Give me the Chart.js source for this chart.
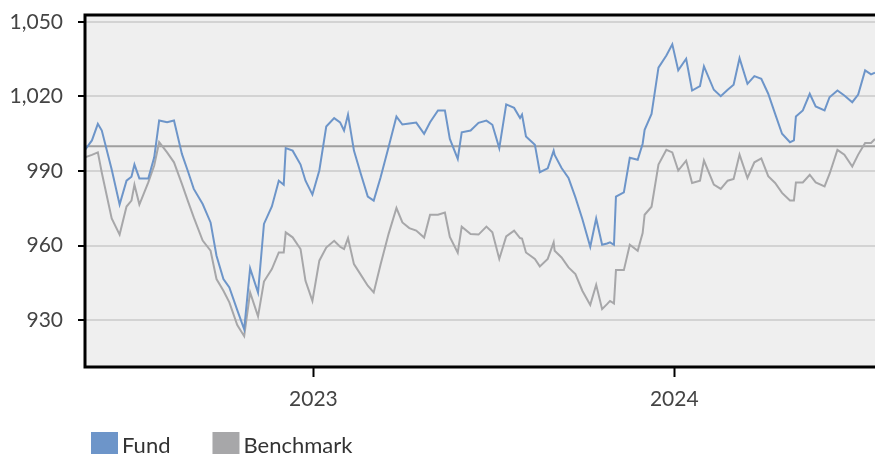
<!DOCTYPE html>
<html>
<head>
<meta charset="utf-8">
<script src="https://cdn.jsdelivr.net/npm/chart.js@4.4.1/dist/chart.umd.min.js"></script>
<style>
  html, body { margin: 0; padding: 0; background: #fff; }
  #wrap { width: 875px; height: 454px; overflow: hidden; }
</style>
</head>
<body>
<div id="wrap"><canvas id="chart" width="875" height="454"></canvas></div>
<script>
const dates = [
  '2022-05-15','2022-05-22','2022-05-28','2022-06-01','2022-06-11','2022-06-19','2022-06-26','2022-07-01',
  '2022-07-04','2022-07-09','2022-07-18','2022-07-24','2022-07-29','2022-08-06','2022-08-13','2022-08-21',
  '2022-08-27','2022-09-02','2022-09-11','2022-09-19','2022-09-25','2022-10-02','2022-10-08','2022-10-16',
  '2022-10-23','2022-10-29','2022-11-06','2022-11-12','2022-11-20','2022-11-27','2022-12-02','2022-12-04',
  '2022-12-11','2022-12-19','2022-12-24','2022-12-31','2023-01-07','2023-01-14','2023-01-22','2023-01-28',
  '2023-02-01','2023-02-05','2023-02-11','2023-02-18','2023-02-25','2023-03-03','2023-03-10','2023-03-18',
  '2023-03-26','2023-04-01','2023-04-08','2023-04-15','2023-04-23','2023-04-29','2023-05-07','2023-05-14',
  '2023-05-19','2023-05-27','2023-05-31','2023-06-09','2023-06-17','2023-06-25','2023-07-01','2023-07-08',
  '2023-07-15','2023-07-23','2023-07-29','2023-07-31','2023-08-04','2023-08-13','2023-08-18','2023-08-26',
  '2023-09-01','2023-09-02','2023-09-09','2023-09-16','2023-09-23','2023-09-30','2023-10-08','2023-10-14',
  '2023-10-20','2023-10-25','2023-10-28','2023-11-01','2023-11-03','2023-11-11','2023-11-17','2023-11-25',
  '2023-11-30','2023-12-02','2023-12-09','2023-12-16','2023-12-24','2023-12-30','2024-01-05','2024-01-13',
  '2024-01-19','2024-01-27','2024-01-31','2024-02-10','2024-02-17','2024-02-24','2024-03-01','2024-03-07',
  '2024-03-15','2024-03-22','2024-03-29','2024-04-05','2024-04-12','2024-04-19','2024-04-27','2024-05-01',
  '2024-05-03','2024-05-10','2024-05-17','2024-05-23','2024-06-01','2024-06-06','2024-06-14','2024-06-21',
  '2024-06-29','2024-07-05','2024-07-12','2024-07-18','2024-07-22'
];

const fund = [
  998.5, 1002.3, 1009, 1006.3, 990.6, 976.5, 986.1, 987.7,
  992.6, 987, 987, 995.5, 1010.3, 1009.6, 1010.3, 996.9,
  990, 982.8, 976.7, 969.3, 955.9, 946.5, 943.1, 934,
  926.3, 950.8, 941.1, 968.7, 975.7, 986.1, 984.5, 999.2,
  998.2, 992.6, 986.1, 980.5, 990.2, 1007.9, 1011.3, 1009.6,
  1006.3, 1012.7, 998.2, 988.8, 979.7, 978.1, 987.5, 999.6,
  1011.9, 1008.7, 1009.1, 1009.5, 1005, 1009.6, 1014.4, 1014.4,
  1002.9, 994.9, 1005.6, 1006.3, 1009.4, 1010.3, 1008.6, 999.2,
  1016.8, 1015.4, 1011.3, 1012.7, 1003.9, 1000.6, 989.5, 991.1,
  998.2, 996.5, 991.2, 987.2, 979.4, 970.7, 959.5, 970.9,
  960.3, 960.8, 961.3, 960.3, 979.7, 981.4, 995.3, 994.5,
  1001, 1006.6, 1013, 1031.6, 1036.5, 1041, 1030.5, 1035.2,
  1022.4, 1024.2, 1032.1, 1022.7, 1020.1, 1022.7, 1024.7, 1035.4,
  1025.1, 1028.2, 1027.1, 1021.1, 1013, 1005, 1001.6, 1002.3,
  1011.9, 1014.4, 1021.1, 1016, 1014.4, 1019.7, 1022.4, 1020.4,
  1017.7, 1020.8, 1030.5, 1028.9, 1029.6
];

const benchmark = [
  995.5, 996.5, 997.5, 989.3, 970.9, 964.4, 975.7, 978.1,
  984.5, 976.5, 985.4, 992.2, 1001.6, 997.5, 993.5, 984.8,
  978, 971.3, 962, 957.9, 946.5, 941.8, 937.1, 928,
  923.5, 941.1, 931.5, 945.5, 950.5, 957.2, 957.2, 965.3,
  963.3, 958.6, 945.8, 937.7, 953.9, 959.2, 961.9, 959.5,
  958.6, 963, 952.5, 948.2, 943.8, 941.1, 952.5, 964.6,
  975.1, 969.3, 967, 966, 963.2, 972.4, 972.4, 973.3,
  963.5, 957.1, 967.6, 964.6, 964.4, 967.6, 965.3, 954.6,
  963.7, 966, 963, 962.8, 957.2, 954.6, 951.6, 954.6,
  961.3, 957.9, 955.2, 951.2, 948.5, 941.8, 936.1, 944.2,
  934.4, 936.4, 937.7, 936.7, 950.1, 950.1, 960.3, 957.9,
  965, 972.4, 975.6, 992.6, 998.5, 997.5, 990.2, 994.2,
  985.2, 986.1, 994.2, 984.5, 982.8, 986.1, 986.8, 996.6,
  987.2, 993.5, 995.1, 987.9, 985.2, 981.2, 978.1, 978.1,
  985.4, 985.4, 988.5, 985.4, 983.8, 988.8, 998.5, 996.6,
  991.8, 996.6, 1001.3, 1001.3, 1002.9
];

const seriesNames = ['Fund', 'Benchmark'];
const seriesColors = ['#6d95c9', '#a7a7a9'];
const yTicks = [930, 960, 990, 1020, 1050];
const xTickDates = ['2023-01-01', '2024-01-01'];
const xTickLabels = ['2023', '2024'];
const refLevel = 1000;

const FONT = 'Lato, "Liberation Sans", sans-serif';
const t = dates.map(d => Date.parse(d));

function pts(vals) {
  return vals.map((v, i) => ({ x: t[i], y: v }));
}

// plot background, 1000 line, frame and legend
const framePlugin = {
  id: 'frame',
  beforeDraw(chart) {
    const a = chart.chartArea, ctx = chart.ctx;
    ctx.save();
    ctx.fillStyle = '#efefef';
    ctx.fillRect(a.left, a.top, a.right - a.left, a.bottom - a.top);
    ctx.restore();
  },
  beforeDatasetsDraw(chart) {
    const a = chart.chartArea, ctx = chart.ctx;
    const y = chart.scales.y.getPixelForValue(refLevel);
    ctx.save();
    ctx.strokeStyle = '#9f9f9f';
    ctx.lineWidth = 2;
    ctx.beginPath();
    ctx.moveTo(a.left, y);
    ctx.lineTo(a.right, y);
    ctx.stroke();
    ctx.restore();
  },
  afterDraw(chart) {
    const a = chart.chartArea, ctx = chart.ctx;
    ctx.save();
    ctx.strokeStyle = '#000';
    ctx.lineWidth = 3;
    ctx.beginPath();
    ctx.moveTo(a.right + 5, a.top);
    ctx.lineTo(a.left, a.top);
    ctx.lineTo(a.left, a.bottom);
    ctx.lineTo(a.right + 5, a.bottom);
    ctx.stroke();

    let x = 91;
    ctx.font = '22px ' + FONT;
    ctx.textBaseline = 'alphabetic';
    chart.data.datasets.forEach(ds => {
      ctx.fillStyle = ds.borderColor;
      ctx.fillRect(x, 432, 27, 22);
      ctx.fillStyle = '#333';
      ctx.fillText(ds.label, x + 31, 453);
      x += 31 + ctx.measureText(ds.label).width + 42;
    });
    ctx.restore();
  }
};

new Chart(document.getElementById('chart').getContext('2d'), {
  type: 'line',
  data: {
    datasets: seriesNames.map((name, k) => ({
      label: name,
      data: pts(k === 0 ? fund : benchmark),
      borderColor: seriesColors[k],
      backgroundColor: seriesColors[k],
      borderWidth: 2,
      pointRadius: 0,
      tension: 0,
      order: k === 0 ? 0 : 1
    }))
  },
  options: {
    responsive: false,
    animation: false,
    layout: { padding: { top: 15, right: 0, bottom: 30, left: 0 } },
    plugins: { legend: { display: false }, tooltip: { enabled: false } },
    scales: {
      x: {
        type: 'linear',
        min: t[0],
        max: t[t.length - 1],
        afterBuildTicks(scale) {
          scale.ticks = xTickDates.map(d => ({ value: Date.parse(d) }));
        },
        afterFit(scale) {
          scale.height = 57;
          scale.paddingLeft = 0;
          scale.paddingRight = 0;
        },
        grid: { drawOnChartArea: false, drawTicks: true, tickLength: 10, tickColor: '#000', tickWidth: 2 },
        border: { display: false },
        ticks: {
          autoSkip: false,
          maxRotation: 0,
          padding: 10,
          color: '#444',
          font: { family: FONT, size: 21 },
          callback(v) {
            const i = xTickDates.findIndex(d => Date.parse(d) === v);
            return i >= 0 ? xTickLabels[i] : '';
          }
        }
      },
      y: {
        min: 911.1,
        max: 1052.8,
        afterBuildTicks(scale) {
          scale.ticks = yTicks.map(v => ({ value: v }));
        },
        afterFit(scale) {
          scale.width = 85;
          scale.paddingTop = 0;
          scale.paddingBottom = 0;
        },
        grid: { color: '#d3d3d3', lineWidth: 2, tickLength: 7, tickColor: '#000', tickWidth: 2 },
        border: { display: false },
        ticks: {
          padding: 15,
          color: '#444',
          font: { family: FONT, size: 21 },
          callback(v) { return v.toLocaleString('en-US'); }
        }
      }
    }
  },
  plugins: [framePlugin]
});
</script>
</body>
</html>
